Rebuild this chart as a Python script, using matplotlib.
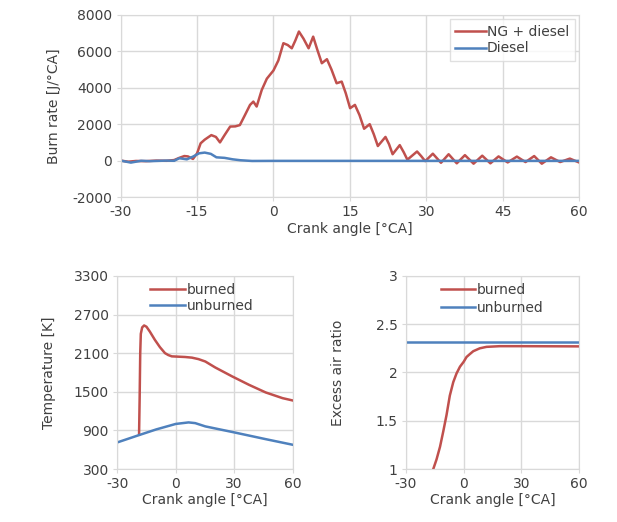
import matplotlib.pyplot as plt

# burn rate, NG + diesel
ca_ng = [-30, -28.5, -27, -25, -23, -21, -19.5, -18.5, -17.5, -16.8, -15.8, -15, -14.3, -13.5,
         -12.2, -11.3, -10.5, -9.6, -8.5, -7.5, -6.6, -5.6, -4.6, -3.95, -3.3, -2.3, -1.3, 0,
         0.96, 1.95, 2.8, 3.6, 4.3, 5.0, 5.9, 6.9, 7.8, 8.6, 9.5, 10.5, 11.4, 12.4, 13.4, 14.2,
         15.05, 16.0, 16.9, 17.8, 18.9, 19.7, 20.5, 22.0, 22.7, 23.4, 24.8, 25.6, 26.3, 28.2,
         29.0, 29.8, 31.3, 32.9, 34.4, 36.0, 37.6, 39.3, 41.0, 42.6, 44.2, 46.0, 47.8, 49.5,
         51.2, 52.7, 54.5, 56.3, 58.2, 60]
br_ng = [0, -60, -20, -30, 0, -10, 30, 150, 250, 230, 90, 400, 950, 1150,
         1400, 1300, 1000, 1400, 1870, 1880, 1950, 2500, 3060, 3240, 2970, 3880, 4500, 4950,
         5500, 6450, 6350, 6170, 6600, 7090, 6700, 6170, 6810, 6100, 5350, 5570, 5000, 4250, 4340, 3700,
         2880, 3060, 2500, 1750, 2000, 1450, 800, 1300, 900, 350, 850, 450, 50, 500,
         250, -30, 380, -120, 350, -150, 300, -170, 270, -150, 230, -100, 220, -80,
         250, -170, 180, -80, 110, -100]

# burn rate, diesel only
ca_d = [-30, -28, -26, -24.3, -21, -19.5, -18.5, -17, -15.8, -14.6, -13.5, -12.3, -11.2,
        -9.6, -8, -6.5, -4.2, 0, 20, 40, 60]
br_d = [0, -110, -10, -30, 0, -10, 130, 70, 220, 400, 440, 370, 180,
        150, 70, 20, -20, -15, -15, -15, -15]

# temperature
ca_tb = [-18.8, -18.5, -18.2, -17.9, -17.2, -16.2, -15.0, -13.3, -10.7, -8.1, -5.5, -3.8, -2.0,
         1.4, 4.8, 8.3, 11.7, 15.2, 20.3, 29.0, 37.6, 46.2, 54.8, 60]
t_burned = [833, 1400, 2100, 2400, 2500, 2530, 2510, 2436, 2307, 2193, 2100, 2070, 2050,
            2045, 2040, 2030, 2007, 1970, 1877, 1738, 1608, 1489, 1401, 1365]
ca_tu = [-30, -19.3, -10, 0, 6.6, 10, 15.2, 30, 46, 60]
t_unburned = [713, 822, 915, 1000, 1024, 1013, 962, 869, 765, 677]

# excess air ratio
ca_lb = [-15.8, -14.1, -12.3, -10.6, -8.9, -7.2, -5.4, -3.7, -1.9, 0, 1.5, 3.2, 5.0, 8.4,
         11.9, 18.8, 30, 60]
lam_burned = [1.0, 1.10, 1.23, 1.39, 1.56, 1.76, 1.90, 1.99, 2.06, 2.11, 2.16, 2.19, 2.22, 2.25,
              2.265, 2.272, 2.272, 2.27]
ca_lu = [-30, 60]
lam_unburned = [2.32, 2.32]

RED = "#C0504D"
BLUE = "#4F81BD"
GRID = "#D9D9D9"
TXT = "#404040"

plt.rcParams["font.family"] = "DejaVu Sans"
plt.rcParams["font.size"] = 10
plt.rcParams["axes.unicode_minus"] = False
plt.rcParams["text.color"] = TXT
plt.rcParams["axes.labelcolor"] = TXT
plt.rcParams["xtick.color"] = TXT
plt.rcParams["ytick.color"] = TXT

fig = plt.figure(figsize=(6.17, 5.22), dpi=100)
ax1 = fig.add_axes([0.1956, 0.6226, 0.7428, 0.3487])
ax2 = fig.add_axes([0.190, 0.1015, 0.2843, 0.370])
ax3 = fig.add_axes([0.658, 0.1015, 0.2804, 0.370])


def style(ax):
    ax.grid(True, color=GRID, linewidth=1)
    ax.set_axisbelow(True)
    for s in ax.spines.values():
        s.set_color(GRID)
    ax.tick_params(length=3, color=GRID, labelsize=10, pad=3)


ax1.plot(ca_ng, br_ng, color=RED, lw=1.8, label="NG + diesel")
ax1.plot(ca_d, br_d, color=BLUE, lw=1.8, label="Diesel")
ax1.set_xlim(-30, 60)
ax1.set_ylim(-2000, 8000)
ax1.set_xticks(range(-30, 61, 15))
ax1.set_yticks(range(-2000, 8001, 2000))
ax1.set_xlabel("Crank angle [°CA]", labelpad=2)
ax1.set_ylabel("Burn rate [J/°CA]", labelpad=8)
style(ax1)
leg = ax1.legend(loc="upper right", handlelength=2.2, handletextpad=0.1, borderaxespad=0.3,
                 fancybox=False, labelspacing=0.2, fontsize=10)
leg.get_frame().set_edgecolor(GRID)

ax2.plot(ca_tb, t_burned, color=RED, lw=1.8, label="burned")
ax2.plot(ca_tu, t_unburned, color=BLUE, lw=1.8, label="unburned")
ax2.set_xlim(-30, 60)
ax2.set_ylim(300, 3300)
ax2.set_xticks([-30, 0, 30, 60])
ax2.set_yticks(range(300, 3301, 600))
ax2.set_xlabel("Crank angle [°CA]", labelpad=1)
ax2.set_ylabel("Temperature [K]", labelpad=13)
style(ax2)
ax2.legend(loc="upper left", bbox_to_anchor=(0.15, 1.0), handlelength=2.5, handletextpad=0.1,
           borderaxespad=0.1, frameon=False, labelspacing=0.15, fontsize=10)

ax3.plot(ca_lb, lam_burned, color=RED, lw=1.8, label="burned")
ax3.plot(ca_lu, lam_unburned, color=BLUE, lw=1.8, label="unburned")
ax3.set_xlim(-30, 60)
ax3.set_ylim(1, 3)
ax3.set_xticks([-30, 0, 30, 60])
ax3.set_yticks([1, 1.5, 2, 2.5, 3])
ax3.set_yticklabels(["1", "1.5", "2", "2.5", "3"])
ax3.set_xlabel("Crank angle [°CA]", labelpad=1)
ax3.set_ylabel("Excess air ratio", labelpad=22)
style(ax3)
ax3.legend(loc="upper left", bbox_to_anchor=(0.16, 1.0), handlelength=2.5, handletextpad=0.1,
           borderaxespad=0.1, frameon=False, labelspacing=0.3, fontsize=10)

fig.savefig("out.png", dpi=100)
